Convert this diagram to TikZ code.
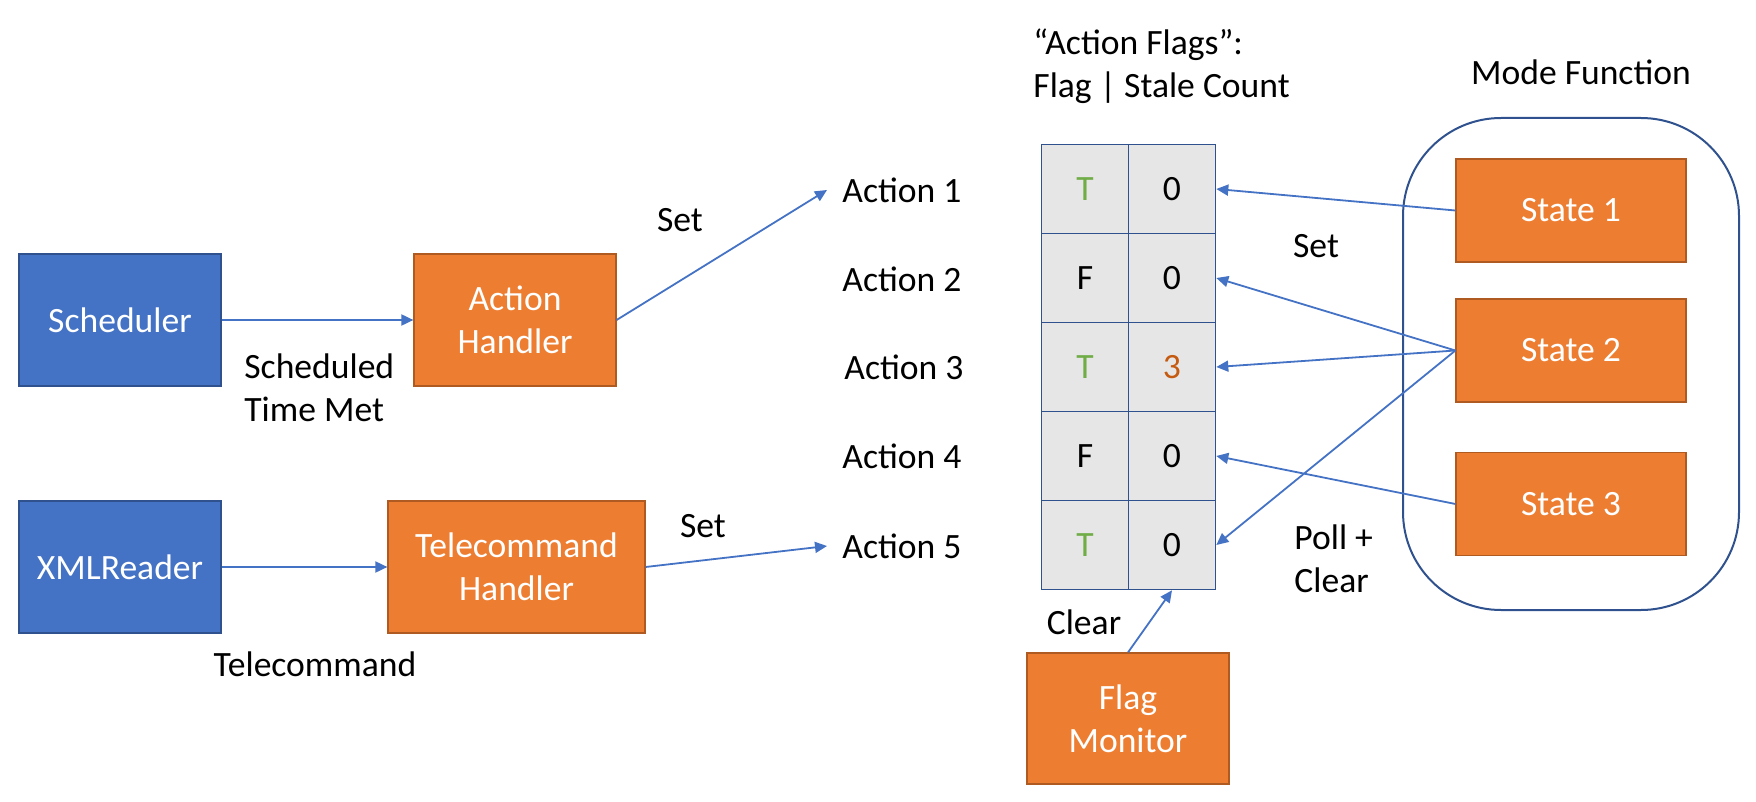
\documentclass[tikz,border=0pt]{standalone}
\usepackage{fontspec}
\setmainfont{Carlito}
\usetikzlibrary{arrows.meta}
\definecolor{oblue}{HTML}{4472C4}
\definecolor{oblueline}{HTML}{2F528F}
\definecolor{oorange}{HTML}{ED7D31}
\definecolor{oorangeline}{HTML}{AE5A21}
\definecolor{cellgray}{HTML}{E7E6E6}
\definecolor{tgreen}{HTML}{70AD47}
\definecolor{dorange}{HTML}{C55A11}
\begin{document}
\begin{tikzpicture}[x=0.5pt,y=-0.5pt,
  every node/.style={font=\fontsize{17.8pt}{21.7pt}\selectfont},
  bluebox/.style={draw=oblueline, fill=oblue, text=white, line width=0.6pt, minimum width=101pt, minimum height=66pt, align=center},
  orangebox/.style={draw=oorangeline, fill=oorange, text=white, line width=0.6pt, align=center},
  cell/.style={draw=oblueline, fill=cellgray, line width=0.8pt, minimum width=43.5pt, minimum height=44.5pt, inner sep=0pt},
  lbl/.style={inner sep=0pt, align=left},
  arr/.style={draw=oblue, line width=0.9pt, -{Triangle[length=6pt,width=5.5pt]}},
]
\useasboundingbox (0,0) rectangle (1756,802);
% left boxes
\node[bluebox] (sch) at (120,320) {Scheduler};
\node[orangebox, minimum width=101pt, minimum height=66pt] (ah) at (515,320) {Action\\Handler};
\node[bluebox] (xml) at (120,567) {XMLReader};
\node[orangebox, minimum width=128.5pt, minimum height=66pt] (th) at (516.5,567) {Telecommand\\Handler};
\node[orangebox, minimum width=101pt, minimum height=65.5pt] (fm) at (1128,718.5) {Flag\\Monitor};
% mode function
\node[draw=oblueline, line width=1pt, rounded corners=49pt, minimum width=168pt, minimum height=246pt] (mode) at (1571,364) {};
\node[orangebox, minimum width=115pt, minimum height=51.5pt] (s1) at (1571,210.5) {State 1};
\node[orangebox, minimum width=115pt, minimum height=51.5pt] (s2) at (1571,350.5) {State 2};
\node[orangebox, minimum width=115pt, minimum height=51.5pt] (s3) at (1571,504) {State 3};
% table
\node[cell] (f1) at (1085,189) {\textcolor{tgreen}{T}};
\node[cell] (c1) at (1172,189) {0};
\node[cell] (f2) at (1085,278) {F};
\node[cell] (c2) at (1172,278) {0};
\node[cell] (f3) at (1085,367) {\textcolor{tgreen}{T}};
\node[cell] (c3) at (1172,367) {\textcolor{dorange}{3}};
\node[cell] (f4) at (1085,456) {F};
\node[cell] (c4) at (1172,456) {0};
\node[cell] (f5) at (1085,545) {\textcolor{tgreen}{T}};
\node[cell] (c5) at (1172,545) {0};
% action labels
\node[lbl, anchor=west, inner xsep=7.5pt] (a1) at (827,190) {Action 1};
\node[lbl, anchor=west, inner xsep=7.5pt] (a2) at (827,279) {Action 2};
\node[lbl, anchor=west, inner xsep=7.5pt] (a3) at (829,367) {Action 3};
\node[lbl, anchor=west, inner xsep=7.5pt] (a4) at (827,456) {Action 4};
\node[lbl, anchor=west, inner xsep=7.5pt] (a5) at (827,546) {Action 5};
% texts
\node[lbl, anchor=west] (stm) at (244,388) {Scheduled\\Time Met};
\node[lbl] (tc) at (315,664) {Telecommand};
\node[lbl] (set1) at (680,220) {Set};
\node[lbl] (set2) at (703,526) {Set};
\node[lbl] (set3) at (1316,246) {Set};
\node[lbl, anchor=west] (pc) at (1294,559) {Poll +\\Clear};
\node[lbl] (clr) at (1084,622) {Clear};
\node[lbl, anchor=west] (hdr) at (1033,66) {“Action Flags”:\\Flag | Stale Count};
\node[lbl] (mf) at (1581,72) {Mode Function};
% arrows
\draw[arr] (sch.east) -- (ah.west);
\draw[arr] (xml.east) -- (th.west);
\draw[arr] (ah.east) -- (a1.west);
\draw[arr] (th.east) -- (a5.west);
\draw[arr] (s1.west) -- (c1.east);
\draw[arr] (s2.west) -- (c2.east);
\draw[arr] (s2.west) -- (c3.east);
\draw[arr] (s2.west) -- (c5.east);
\draw[arr] (s3.west) -- (c4.east);
\draw[arr] (fm.north) -- (c5.south);
\end{tikzpicture}
\end{document}
